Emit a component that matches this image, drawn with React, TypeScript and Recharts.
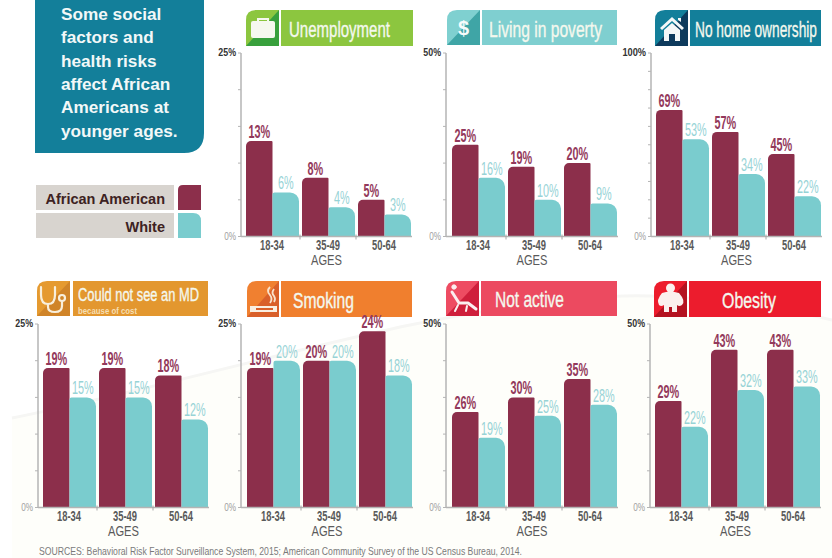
import React from 'react';
import { BarChart, Bar, XAxis, YAxis, LabelList } from 'recharts';

// Age bands shared by every panel
const ageGroups = ['18-34', '35-49', '50-64'];

// Percent of each group, by age band
const unemploymentBlack = [13, 8, 5];
const unemploymentWhite = [6, 4, 3];
const povertyBlack = [25, 19, 20];
const povertyWhite = [16, 10, 9];
const noHomeBlack = [69, 57, 45];
const noHomeWhite = [53, 34, 22];
const noDoctorBlack = [19, 19, 18];
const noDoctorWhite = [15, 15, 12];
const smokingBlack = [19, 20, 24];
const smokingWhite = [20, 20, 18];
const inactiveBlack = [26, 30, 35];
const inactiveWhite = [19, 25, 28];
const obesityBlack = [29, 43, 43];
const obesityWhite = [22, 32, 33];

// Axis tick values for each scale
const ticks25 = [0, 5, 10, 15, 20, 25];
const ticks50 = [0, 10, 20, 30, 40, 50];
const ticks100 = [0, 10, 20, 30, 40, 50, 60, 70, 80, 90, 100];

const headlineLines = ['Some social', 'factors and', 'health risks', 'affect African', 'Americans at', 'younger ages.'];
const sourceNote = 'SOURCES: Behavioral Risk Factor Surveillance System, 2015; American Community Survey of the US Census Bureau, 2014.';

const MAROON = '#8c2f4b';
const TEAL = '#7accce';
const SANS = '"Liberation Sans", Arial, sans-serif';

const toRows = (black: number[], white: number[]) =>
  ageGroups.map((age, i) => ({ age, black: black[i], white: white[i] }));

const percent = (v: number) => `${v}%`;

// Y axis: ticks on every step, text only on the two ends
const YTick = ({ x, y, payload, maxValue }: any) => {
  if (payload.value !== 0 && payload.value !== maxValue) return null;
  const isMax = payload.value === maxValue;
  const text = percent(payload.value);
  return (
    <text x={x} y={y + 3} textAnchor="end" fontFamily={SANS} fontSize={10}
      fontWeight={isMax ? 700 : 400} fill={isMax ? '#333' : '#a0a0a0'}
      textLength={text.length * 5.9} lengthAdjust="spacingAndGlyphs">
      {text}
    </text>
  );
};

// X axis: age text, plus the divider mark between neighbouring bands
const XTick = ({ x, y, payload, index, band }: any) => (
  <g>
    {index < 2 && <line x1={x + band / 2} x2={x + band / 2} y1={y - 8} y2={y - 3} stroke="#a8a8a8" strokeWidth={1} />}
    <text x={x} y={y + 7} textAnchor="middle" fontFamily={SANS} fontSize={14} fontWeight={700} fill="#5a5a5a"
      textLength={24} lengthAdjust="spacingAndGlyphs">
      {payload.value}
    </text>
  </g>
);

const AgesCaption = ({ viewBox }: any) => (
  <text x={viewBox.x + viewBox.width / 2} y={viewBox.y + 28} textAnchor="middle" fontFamily={SANS} fontSize={14}
    fill="#5a5a5a" textLength={31} lengthAdjust="spacingAndGlyphs">
    AGES
  </text>
);

// Condensed value label above a bar
const makeValueLabel = (fill: string, weight: number) => ({ x, y, width, value }: any) => (
  <text transform={`translate(${x + width / 2},${y - 3}) scale(0.62,1)`} textAnchor="middle" fontFamily={SANS}
    fontSize={17.5} fontWeight={weight} fill={fill}>
    {percent(value)}
  </text>
);
const BlackValueLabel = makeValueLabel('#93395b', 700);
const WhiteValueLabel = makeValueLabel('#97d3d6', 400);

type PanelProps = {
  left: number; top: number; right: number; bottom: number; gapLeft: number;
  black: number[]; white: number[]; max: number; ticks: number[];
};

const Panel = ({ left, top, right, bottom, gapLeft, black, white, max, ticks }: PanelProps) => {
  const marginLeft = 32;
  const marginTop = 14;
  const xAxisHeight = 42;
  const width = right - left + marginLeft + 6;
  const height = bottom - top + marginTop + xAxisHeight;
  const band = (right - left - gapLeft) / ageGroups.length;
  return (
    <div style={{ position: 'absolute', left: left - marginLeft, top: top - marginTop }}>
      <BarChart width={width} height={height} data={toRows(black, white)} barGap={0} barSize={26.5}
        margin={{ left: 0, top: marginTop, right: 6, bottom: 0 }}>
        <XAxis dataKey="age" height={xAxisHeight} interval={0} padding={{ left: gapLeft, right: 0 }}
          axisLine={{ stroke: '#b4b4b4', strokeWidth: 1.5 }} tickLine={false} tickMargin={0}
          tick={<XTick band={band} />} label={<AgesCaption />} />
        <YAxis width={marginLeft} domain={[0, max]} ticks={ticks} interval={0} tickSize={3} tickMargin={2}
          axisLine={{ stroke: '#b4b4b4', strokeWidth: 1.5 }} tickLine={{ stroke: '#b4b4b4' }}
          tick={<YTick maxValue={max} />} />
        <Bar dataKey="black" fill={MAROON} radius={[5, 1, 0, 0]} isAnimationActive={false}>
          <LabelList dataKey="black" content={BlackValueLabel} />
        </Bar>
        <Bar dataKey="white" fill={TEAL} radius={[2, 9, 0, 0]} isAnimationActive={false}>
          <LabelList dataKey="white" content={WhiteValueLabel} />
        </Bar>
      </BarChart>
    </div>
  );
};

// Square tile with a rounded corner and a darker diagonal half, holding a pictogram
const IconTile = ({ x, y, w, h, light, dark, children }: any) => (
  <g>
    <path d={`M${x},${y + h} V${y + 10} Q${x},${y} ${x + 10},${y} H${x + w} V${y + h} Z`} fill={light} />
    <path d={`M${x},${y + h} L${x + w},${y} V${y + h} Z`} fill={dark} />
    <g transform={`translate(${x},${y})`}>{children}</g>
  </g>
);

// Title strip; the text is squeezed horizontally into its slot
const Banner = ({ tx, tw, y, h, fill, label, lx, lw, base, size = 22.5, squeeze = 0.65 }: any) => (
  <g>
    <rect x={tx} y={y} width={tw} height={h} fill={fill} />
    <text transform={`translate(${lx},${base}) scale(${squeeze},1)`} fontFamily={SANS} fontSize={size} fill="#f4f8ee"
      stroke="#f4f8ee" strokeWidth={0.35} textLength={lw / squeeze} lengthAdjust="spacingAndGlyphs">
      {label}
    </text>
  </g>
);

const Briefcase = () => (
  <g fill="#f6f8ef">
    <rect x={5} y={11} width={24} height={17} rx={2} />
    <path d="M11,11 V8 H23 V11 H21 V10 H13 V11 Z" />
  </g>
);
const House = () => (
  <g fill="#f4f8f8">
    <path d="M5,18 L17,7 L29,18 L27,20 L17,11 L7,20 Z" />
    <path d="M9,20 L17,13 L25,20 V31 H20 V24 H14 V31 H9 Z" />
    <path d="M23,8 H26 V12 L23,10 Z" />
  </g>
);
const Stethoscope = () => (
  <g fill="none" stroke="#f8efdc" strokeWidth={2.2} strokeLinecap="round">
    <path d="M4,6 V14 Q4,23 11,23 Q18,23 18,14 V6" />
    <path d="M11,23 V26 Q11,31 18,31 Q25,31 25,25 V21" />
    <circle cx={25} cy={17} r={3} />
  </g>
);
const Cigarette = () => (
  <g>
    <rect x={3} y={25} width={27} height={6} fill="#f9efe2" />
    <rect x={9} y={27} width={17} height={2} fill="#d9602a" />
    <path d="M23,6 Q19,10 23,14 Q26,18 23,22 M27,8 Q24,12 27,15 Q29,18 27,21" fill="none" stroke="#f9e2cc" strokeWidth={1.8} />
  </g>
);
const Recliner = () => (
  <g fill="none" stroke="#fbeff0" strokeWidth={3} strokeLinecap="round" strokeLinejoin="round">
    <circle cx={8} cy={6} r={2.2} fill="#fbeff0" strokeWidth={1} />
    <path d="M6,11 L13,22 H22 L30,28" />
    <path d="M12,24 L9,30 M21,25 L20,30" strokeWidth={2} />
  </g>
);
const LargeFigure = () => (
  <g fill="#fbf0ee">
    <circle cx={16.5} cy={7} r={4.5} />
    <path d="M8,12 Q16,9 25,12 Q32,20 28,24 Q25,26 23,24 V31 H18 V26 H15 V31 H10 V24 Q7,26 5,24 Q2,19 8,12 Z" />
  </g>
);

// Soft cream wash that sweeps across the lower part of the page
const washEdge = 'M12,418 C130,395 290,350 410,325 C510,305 590,294 650,296 C720,298 790,310 832,320';

const App = () => (
  <div style={{ position: 'absolute', left: 0, top: 0, width: 832, height: 558, overflow: 'hidden', background: '#fff' }}>
    <svg width={832} height={558} style={{ position: 'absolute', left: 0, top: 0 }}>
      <path d={`${washEdge} V558 H12 Z`} fill="#fefefa" />
      <path d={washEdge} fill="none" stroke="#f6f6f4" strokeWidth={3} />

      {/* Headline block */}
      <path d="M35,0 H204 V133 Q204,153 184,153 H35 Z" fill="#137f9a" />
      {headlineLines.map((line, i) => (
        <text key={line} x={61} y={20 + i * 23.3} fontFamily={SANS} fontWeight={700} fontSize={17.2} fill="#f2f8f8">
          {line}
        </text>
      ))}

      {/* Key */}
      <rect x={36} y={185} width={138} height={25} fill="#d8d4cf" />
      <rect x={36} y={213} width={138} height={25} fill="#d8d4cf" />
      <text x={165} y={204} textAnchor="end" fontFamily={SANS} fontWeight={700} fontSize={14.5} fill="#3d2222">African American</text>
      <text x={165} y={232} textAnchor="end" fontFamily={SANS} fontWeight={700} fontSize={14.5} fill="#3d2222">White</text>
      <path d="M178,210 V190 Q178,185 183,185 H201 V210 Z" fill={MAROON} />
      <path d="M178,238 V213 H193 Q201,213 201,221 V238 Z" fill={TEAL} />

      {/* Top row headers */}
      <IconTile x={246} y={10} w={33} h={36} light="#8cc63f" dark="#38a03c"><Briefcase /></IconTile>
      <Banner tx={281} tw={132} y={10} h={36} fill="#8cc63f" label="Unemployment" lx={289} lw={101} base={37} />

      <IconTile x={447} y={10} w={33} h={35} light="#7fd0d0" dark="#3fa5a6">
        <text x={16.5} y={25} textAnchor="middle" fontFamily={SANS} fontWeight={700} fontSize={20} fill="#f6fbfb">$</text>
      </IconTile>
      <Banner tx={482} tw={135} y={10} h={35} fill="#7fcfd0" label="Living in poverty" lx={489} lw={113} base={37} />

      <IconTile x={655} y={10} w={33} h={36} light="#137f9a" dark="#0d3a5c"><House /></IconTile>
      <Banner tx={690} tw={131} y={10} h={36} fill="#137f9a" label="No home ownership" lx={695} lw={122} base={37} squeeze={0.61} />

      {/* Bottom row headers */}
      <IconTile x={37} y={281} w={33} h={35} light="#e59a30" dark="#d08428"><Stethoscope /></IconTile>
      <Banner tx={73} tw={135} y={281} h={35} fill="#e3972f" label="Could not see an MD" lx={78} lw={121} base={301} size={18.5} />
      <text x={78} y={314} fontFamily={SANS} fontSize={9.5} fontWeight={700} fill="#f6dfb4" textLength={59} lengthAdjust="spacingAndGlyphs">because of cost</text>

      <IconTile x={247} y={281} w={32} h={36} light="#f08030" dark="#d9602a"><Cigarette /></IconTile>
      <Banner tx={281} tw={131} y={281} h={36} fill="#f07f2e" label="Smoking" lx={293} lw={61} base={308} />

      <IconTile x={446} y={281} w={33} h={35} light="#ee4c62" dark="#cf1f3b"><Recliner /></IconTile>
      <Banner tx={481} tw={136} y={281} h={35} fill="#ec4a60" label="Not active" lx={495} lw={69} base={307} />

      <IconTile x={654} y={281} w={33} h={36} light="#ed1c2c" dark="#b41220"><LargeFigure /></IconTile>
      <Banner tx={689} tw={132} y={281} h={36} fill="#ec1c2d" label="Obesity" lx={722} lw={54} base={308} />

      <text x={39} y={555} fontFamily={SANS} fontSize={11} fill="#7a7a7a" textLength={483} lengthAdjust="spacingAndGlyphs">{sourceNote}</text>
    </svg>

    <Panel left={241} right={412} top={53} bottom={236.5} gapLeft={3} black={unemploymentBlack} white={unemploymentWhite} max={25} ticks={ticks25} />
    <Panel left={446} right={618} top={53} bottom={236.5} gapLeft={4} black={povertyBlack} white={povertyWhite} max={50} ticks={ticks50} />
    <Panel left={651} right={822} top={53} bottom={236.5} gapLeft={3} black={noHomeBlack} white={noHomeWhite} max={100} ticks={ticks100} />
    <Panel left={38} right={209} top={324} bottom={507.5} gapLeft={3} black={noDoctorBlack} white={noDoctorWhite} max={25} ticks={ticks25} />
    <Panel left={241} right={413} top={324} bottom={507.5} gapLeft={4} black={smokingBlack} white={smokingWhite} max={25} ticks={ticks25} />
    <Panel left={446} right={618} top={324} bottom={507.5} gapLeft={4} black={inactiveBlack} white={inactiveWhite} max={50} ticks={ticks50} />
    <Panel left={650} right={821} top={324} bottom={507.5} gapLeft={3} black={obesityBlack} white={obesityWhite} max={50} ticks={ticks50} />
  </div>
);

export default App;
